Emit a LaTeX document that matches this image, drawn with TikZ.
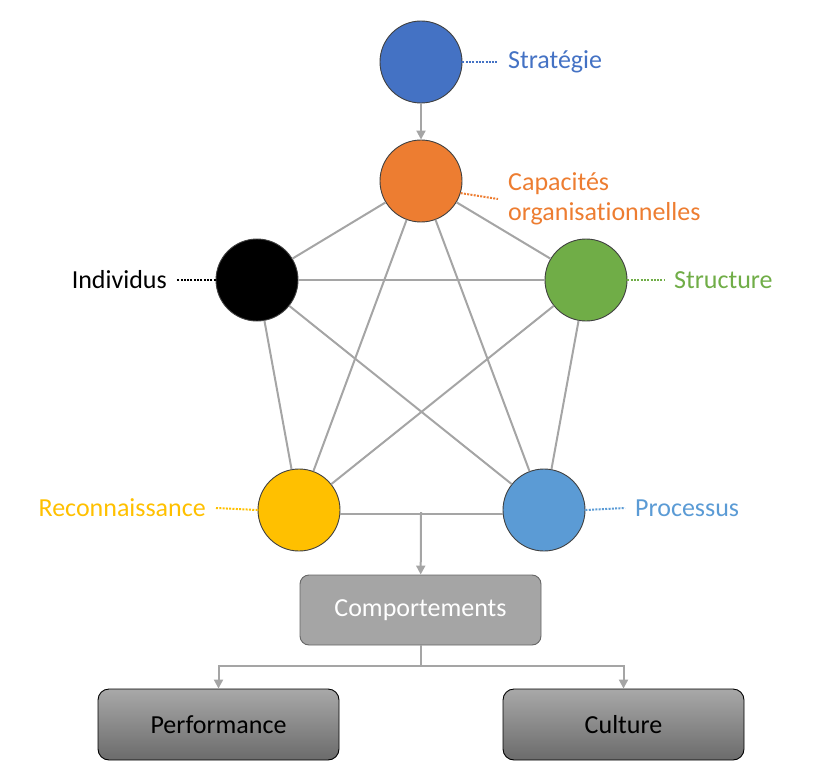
\documentclass[tikz,border=0pt]{standalone}
\usepackage{fontspec}
\setmainfont{Carlito}[Ligatures=NoCommon]
\usepackage{xcolor}
\usetikzlibrary{positioning,arrows.meta,calc}

\definecolor{stratblue}{HTML}{4472C4}
\definecolor{capaorange}{HTML}{ED7D31}
\definecolor{structgreen}{HTML}{70AD47}
\definecolor{reconyellow}{HTML}{FFC000}
\definecolor{procblue}{HTML}{5B9BD5}
\definecolor{linkgray}{HTML}{A5A5A5}

\begin{document}
\begin{tikzpicture}[
          x=1pt, y=-1pt,
          every node/.style={font=\fontsize{26}{30}\selectfont},
          pillar/.style={draw=black!75, line width=0.9pt, circle, minimum size=82pt, inner sep=0pt},
          tag/.style={inner xsep=10pt, inner ysep=2pt},
          link/.style={draw=linkgray, line width=2pt},
          feed/.style={link, -{Triangle[length=9pt,width=9pt]}},
          dots/.style={line width=2pt, dash pattern=on 2pt off 1.3pt},
          midbox/.style={draw=black!60, line width=0.9pt, rounded corners=9pt, fill=linkgray, text=white, minimum width=241pt, minimum height=70pt},
          outbox/.style={draw=black, line width=0.9pt, rounded corners=11pt, top color=black!34, bottom color=black!58, minimum width=241pt, minimum height=71pt}
      ]
        \useasboundingbox (0,0) rectangle (832,770);
        \node[pillar, fill=stratblue] (strat) at (421,62) {};
        \node[pillar, fill=capaorange] (capa) at (421,181) {};
        \node[pillar, fill=black] (indiv) at (257,280) {};
        \node[pillar, fill=structgreen] (struct) at (586,280) {};
        \node[pillar, fill=reconyellow] (recon) at (299,510) {};
        \node[pillar, fill=procblue] (proc) at (544,510) {};
        \node[tag, anchor=west, text=stratblue] (lstrat) at (498,62) {Stratégie};
        \node[tag, anchor=west, text=capaorange, align=left] (lcapa) at (498,199) {Capacités\\organisationnelles};
        \node[tag, anchor=east, text=black] (lindiv) at (177,280) {Individus};
        \node[tag, anchor=west, text=structgreen] (lstruct) at (664,280) {Structure};
        \node[tag, anchor=east, text=reconyellow] (lrecon) at (216,508) {Reconnaissance};
        \node[tag, anchor=west, text=procblue] (lproc) at (625,508) {Processus};
        \draw[dots, stratblue] (strat.east) -- (lstrat.west);
        \draw[dots, capaorange] (capa.-17) -- (lcapa.west);
        \draw[dots, black] (indiv.west) -- (lindiv.east);
        \draw[dots, structgreen] (struct.east) -- (lstruct.west);
        \draw[dots, reconyellow] (recon.west) -- (lrecon.east);
        \draw[dots, procblue] (proc.east) -- (lproc.west);
        \draw[feed] (strat) -- (capa);
        \foreach \a/\b in {capa/indiv, capa/struct, capa/recon, capa/proc, indiv/struct, indiv/recon, indiv/proc, struct/recon, struct/proc}
          \draw[link] (\a) -- (\b);
        \draw[link] (recon.-5) -- (proc.185);
        \coordinate (junc) at (421,512);
        \node[midbox] (comp) at (420.5,610) {Comportements};
        \node[outbox] (perf) at (218.5,724.5) {Performance};
        \node[outbox] (cult) at (623.5,724.5) {Culture};
        \draw[feed] (junc) -- (comp);
        \draw[feed] (comp.south) -- ++(0,21) -| (perf.north);
        \draw[feed] (comp.south) -- ++(0,21) -| (cult.north);
      \end{tikzpicture}
\end{document}
